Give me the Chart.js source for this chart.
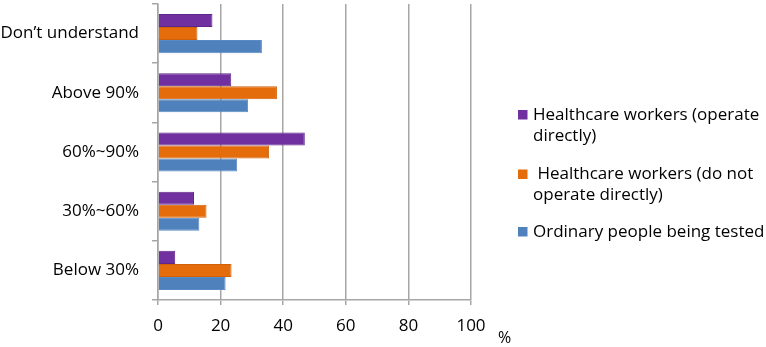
<!DOCTYPE html>
<html lang="en">
<head>
    <meta charset="UTF-8" />
    <title>Accuracy perception chart</title>
    <script src="https://cdn.jsdelivr.net/npm/chart.js"></script>
    <style>
        * { box-sizing: border-box; margin: 0; padding: 0; }
        body { background: #fff; }
        #wrap { width: 766px; height: 347px; position: relative; }
    </style>
</head>
<body>
    <div id="wrap">
        <canvas id="chart" width="766" height="347"></canvas>
    </div>

    <script>
        // data
        const categories = ['Don\u2019t understand', 'Above 90%', '60%~90%', '30%~60%', 'Below 30%'];
        const operateDirectly = [17.4, 23.4, 46.9, 11.5, 5.5];
        const notOperateDirectly = [12.6, 38.0, 35.5, 15.5, 23.5];
        const ordinaryPeople = [33.2, 28.8, 25.3, 13.2, 21.6];
        const xTicks = [0, 20, 40, 60, 80, 100];
        const seriesNames = [
            ['Healthcare workers (operate', 'directly)'],
            [' Healthcare workers (do not', 'operate directly)'],
            ['Ordinary people being tested']
        ];
        const seriesColors = ['#7030A0', '#E46C0A', '#4F81BD'];
        const seriesBorders = ['#5E2789', '#D0600A', '#5A8AC4'];

        const FONT = "'Open Sans', sans-serif";

        // legend + axis unit drawn on the canvas
        const sideLegend = {
            id: 'sideLegend',
            afterDraw(chart) {
                const c = chart.ctx;
                c.save();
                c.font = '17px ' + FONT;
                c.textBaseline = 'alphabetic';
                const baselines = [119.5, 179, 236.5];
                seriesNames.forEach((lines, i) => {
                    const b = baselines[i];
                    c.fillStyle = seriesColors[i];
                    c.fillRect(518, b - 9.5, 9.5, 9.5);
                    c.fillStyle = '#000';
                    lines.forEach((t, j) => c.fillText(t, 533, b + j * 21));
                });
                c.font = '16px ' + FONT;
                c.fillText('%', 498, 343);
                c.restore();
            }
        };

        const datasets = [operateDirectly, notOperateDirectly, ordinaryPeople].map((vals, i) => ({
            label: seriesNames[i].join(' ').trim(),
            data: vals,
            backgroundColor: seriesColors[i],
            borderColor: seriesBorders[i],
            borderWidth: 1,
            barPercentage: 1.0,
            categoryPercentage: 0.66
        }));

        new Chart(document.getElementById('chart'), {
            type: 'bar',
            data: { labels: categories, datasets: datasets },
            plugins: [sideLegend],
            options: {
                indexAxis: 'y',
                responsive: false,
                animation: false,
                layout: { padding: { top: 4, right: 295, left: 0, bottom: 0 } },
                plugins: {
                    legend: { display: false },
                    tooltip: { enabled: false }
                },
                scales: {
                    x: {
                        min: 0,
                        max: 100,
                        afterBuildTicks(axis) { axis.ticks = xTicks.map(v => ({ value: v })); },
                        afterFit(axis) { axis.height = 47; },
                        grid: { color: '#A6A6A6', lineWidth: 1.5, tickLength: 5, drawTicks: true },
                        border: { display: true, color: '#A6A6A6', width: 1.5 },
                        ticks: { color: '#000', padding: 11, font: { family: FONT, size: 17 } }
                    },
                    y: {
                        afterFit(axis) {
                            axis.width = 158;
                            axis.paddingTop = 0;
                            axis.paddingBottom = 0;
                        },
                        grid: { drawOnChartArea: false, drawTicks: true, tickLength: 6, color: '#A6A6A6', lineWidth: 1.5, offset: true },
                        border: { display: true, color: '#A6A6A6', width: 1.5 },
                        ticks: { color: '#000', padding: 13, font: { family: FONT, size: 17 } }
                    }
                }
            }
        });
    </script>
</body>
</html>
